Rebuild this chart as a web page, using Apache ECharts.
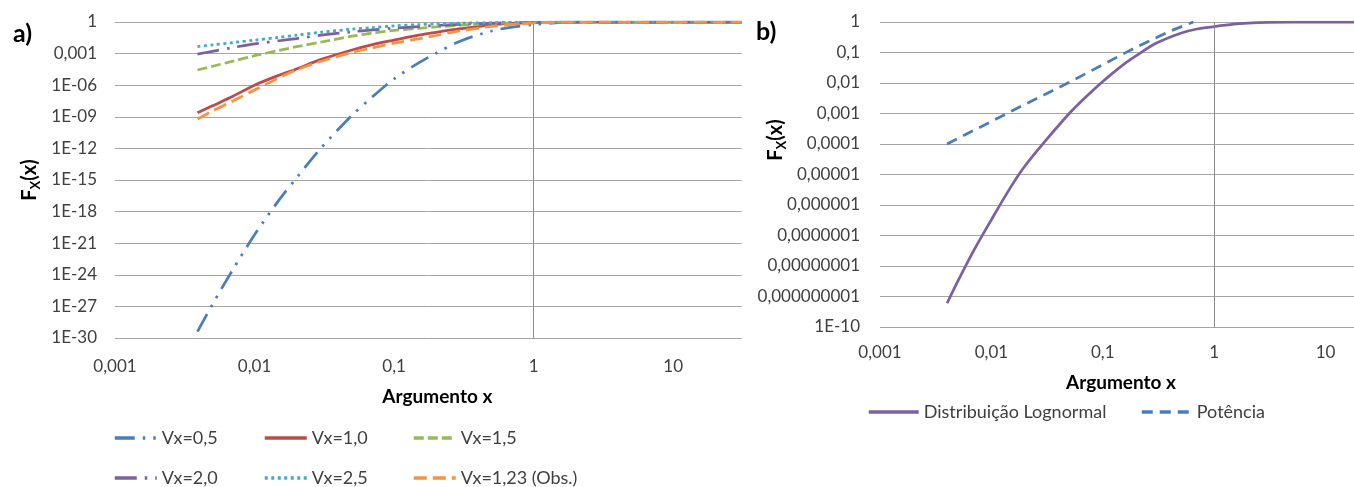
<!DOCTYPE html>
<html>
<head>
<meta charset="utf-8">
<script src="https://cdn.jsdelivr.net/npm/echarts@6/dist/echarts.min.js"></script>
<style>html,body{margin:0;padding:0;background:#fff}#c{width:1354px;height:487px}</style>
</head>
<body>
<div id="c"></div>
<script>
// ---- Chart a) data ----
const xA = [0.0039, 0.005, 0.007, 0.01, 0.015, 0.02, 0.03, 0.05, 0.07, 0.1, 0.15, 0.2, 0.3, 0.5, 0.7, 1, 1.5, 2, 3, 5, 10, 20, 31];
const vx05  = [4.0e-30, 1.6e-27, 3.2e-24, 6.3e-21, 1.3e-17, 1.6e-15, 1.1e-12, 1.4e-9, 7.9e-8, 4.0e-6, 1.3e-4, 1.1e-3, 0.016, 0.14, 0.33, 0.56, 0.87, 0.98, 1, 1, 1, 1, 1];
const vx10  = [2.4e-9, 1.1e-8, 8.9e-8, 1.0e-6, 8.9e-6, 3.5e-5, 2.8e-4, 2.2e-3, 7.1e-3, 0.019, 0.056, 0.105, 0.23, 0.54, 0.74, 0.89, 0.98, 1, 1, 1, 1, 1, 1];
const vx15  = [2.75e-5, 6.3e-5, 1.9e-4, 6.3e-4, 2.0e-3, 4.5e-3, 0.0126, 0.045, 0.089, 0.16, 0.25, 0.34, 0.5, 0.72, 0.85, 0.93, 0.99, 1, 1, 1, 1, 1, 1];
const vx20  = [8.9e-4, 1.66e-3, 3.8e-3, 8.3e-3, 0.0166, 0.027, 0.056, 0.117, 0.18, 0.26, 0.37, 0.46, 0.6, 0.76, 0.85, 0.93, 0.98, 0.99, 1, 1, 1, 1, 1];
const vx25  = [4.7e-3, 6.8e-3, 0.0112, 0.019, 0.035, 0.056, 0.107, 0.21, 0.30, 0.43, 0.56, 0.65, 0.78, 0.87, 0.93, 0.98, 0.99, 1, 1, 1, 1, 1, 1];
const vx123 = [6.3e-10, 3.5e-9, 3.2e-8, 3.5e-7, 5.0e-6, 2.8e-5, 1.9e-4, 1.3e-3, 3.5e-3, 0.01, 0.025, 0.052, 0.15, 0.38, 0.58, 0.79, 0.95, 0.99, 1, 1, 1, 1, 1];
const namesA = ['Vx=0,5', 'Vx=1,0', 'Vx=1,5', 'Vx=2,0', 'Vx=2,5', 'Vx=1,23 (Obs.)'];
const xTicksA = ['0,001', '0,01', '0,1', '1', '10'];
const yTicksA = ['1E-30', '1E-27', '1E-24', '1E-21', '1E-18', '1E-15', '1E-12', '1E-09', '1E-06', '0,001', '1'];

// ---- Chart b) data ----
const xB = [0.004, 0.005, 0.007, 0.01, 0.015, 0.02, 0.03, 0.05, 0.07, 0.1, 0.15, 0.2, 0.3, 0.5, 0.7, 1, 1.5, 2, 3, 5, 10, 18];
const lognormal = [6.0e-10, 3.2e-9, 3.4e-8, 3.3e-7, 4.0e-6, 1.9e-5, 1.17e-4, 1.0e-3, 3.4e-3, 0.0112, 0.038, 0.079, 0.2, 0.43, 0.59, 0.71, 0.85, 0.92, 0.98, 1, 1, 1];
const xPot = [0.004, 0.01, 0.02, 0.05, 0.1, 0.2, 0.4, 0.65];
const potencia = [1.0e-4, 5.5e-4, 2.0e-3, 0.0105, 0.04, 0.15, 0.5, 1.0];
const namesB = ['Distribuição Lognormal', 'Potência'];
const xTicksB = ['0,001', '0,01', '0,1', '1', '10'];
const yTicksB = ['1E-10', '0,000000001', '0,00000001', '0,0000001', '0,000001', '0,00001', '0,0001', '0,001', '0,01', '0,1', '1'];

// axis ranges
const xMaxA = 31, xMaxB = 18;

const L = Math.log10;
const toPts = (xs, ys) => xs.map((x, i) => [L(x), L(ys[i])]);
const FONT = 'Lato';
const gridColor = '#a6a6a6';

const chart = echarts.init(document.getElementById('c'), null, {renderer: 'canvas'});

const colorsA = ['#4A7EBB', '#BE4B48', '#98B954', '#7D60A0', '#46AAC5', '#F69240'];
const dashA = [[20, 8, 2.5, 8, 2.5, 8], 'solid', [10, 4], [22, 8, 2.5, 8], [3, 3.5], [13, 6]];
const dataA = [vx05, vx10, vx15, vx20, vx25, vx123];

const series = dataA.map((ys, i) => ({
  name: namesA[i], type: 'line', xAxisIndex: 0, yAxisIndex: 0,
  data: toPts(xA, ys), showSymbol: false, symbol: 'none',
  smooth: 0.3,
  lineStyle: {color: colorsA[i], width: 2.75, type: dashA[i]},
  itemStyle: {color: colorsA[i]},
  z: 3
}));
series[0].markLine = {
  silent: true, symbol: 'none', label: {show: false},
  lineStyle: {color: '#8c8c8c', width: 1, type: 'solid'},
  data: [{xAxis: 0}], z: 1
};
series.push({
  name: namesB[0], type: 'line', xAxisIndex: 1, yAxisIndex: 1,
  data: toPts(xB, lognormal), showSymbol: false, symbol: 'none',
  smooth: 0.3,
  lineStyle: {color: '#7D60A0', width: 2.75}, itemStyle: {color: '#7D60A0'},
  markLine: {silent: true, symbol: 'none', label: {show: false},
    lineStyle: {color: '#8c8c8c', width: 1, type: 'solid'}, data: [{xAxis: 0}]}
});
series.push({
  name: namesB[1], type: 'line', xAxisIndex: 1, yAxisIndex: 1,
  data: toPts(xPot, potencia), showSymbol: false, symbol: 'none',
  lineStyle: {color: '#4A7EBB', width: 2.75, type: [11, 7]}, itemStyle: {color: '#4A7EBB'}
});

const lab = {fontFamily: FONT, fontSize: 17, color: '#404040'};
const xLabelFmt = (ticks) => (v) => {
  const r = Math.round(v);
  if (Math.abs(v - r) > 1e-6) return '';
  const idx = r + 3;
  return ticks[idx] !== undefined ? ticks[idx] : '';
};

const hiddenSymbol = {color: 'rgba(0,0,0,0)', borderColor: 'rgba(0,0,0,0)', borderWidth: 0, opacity: 0};
const legText = {fontFamily: FONT, fontSize: 18, color: '#404040'};
const legLine = {width: 3.5};
const legPos = [[113, 429], [263, 429], [412, 429], [113, 469], [263, 469], [412, 469]];
const legends = namesA.map((n, i) => ({
  data: [n], left: legPos[i][0], top: legPos[i][1], padding: 0, itemGap: 0,
  itemWidth: 42, itemHeight: 14, selectedMode: false,
  itemStyle: hiddenSymbol, lineStyle: legLine, textStyle: legText
}));
legends.push({data: [namesB[0]], left: 867, top: 403, padding: 0, itemWidth: 50, itemHeight: 14, selectedMode: false,
  itemStyle: hiddenSymbol, lineStyle: legLine, textStyle: legText});
legends.push({data: [namesB[1]], left: 1140, top: 403, padding: 0, itemWidth: 50, itemHeight: 14, selectedMode: false,
  itemStyle: hiddenSymbol, lineStyle: legLine, textStyle: legText});

const yName = (x, y) => ({
  type: 'text', x: x, y: y, rotation: Math.PI / 2,
  style: {
    text: '{b|F}{s|X}{b|(x)}',
    align: 'center', verticalAlign: 'middle',
    rich: {
      b: {fontFamily: FONT, fontSize: 20, fontWeight: 'bold', fill: '#000', lineHeight: 24},
      s: {fontFamily: FONT, fontSize: 13, fontWeight: 'bold', fill: '#000', verticalAlign: 'bottom', lineHeight: 24}
    }
  }
});

chart.setOption({
  animation: false,
  backgroundColor: '#fff',
  grid: [
    {left: 115, top: 22, width: 626.7, height: 316},
    {left: 880, top: 22, width: 474, height: 305}
  ],
  xAxis: [
    {type: 'value', gridIndex: 0, min: -3, max: L(xMaxA), interval: 1,
     axisLine: {show: false}, axisTick: {show: false}, splitLine: {show: false},
     axisLabel: Object.assign({margin: 20, formatter: xLabelFmt(xTicksA), showMaxLabel: false}, lab),
     name: 'Argumento x', nameLocation: 'middle', nameGap: 49,
     nameTextStyle: {fontFamily: FONT, fontSize: 19, fontWeight: 'bold', color: '#000', padding: [0, 0, 0, 18]}},
    {type: 'value', gridIndex: 1, min: -3, max: L(xMaxB), interval: 1,
     axisLine: {show: false}, axisTick: {show: false}, splitLine: {show: false},
     axisLabel: Object.assign({margin: 17, formatter: xLabelFmt(xTicksB), showMaxLabel: false}, lab),
     name: 'Argumento x', nameLocation: 'middle', nameGap: 46,
     nameTextStyle: {fontFamily: FONT, fontSize: 19, fontWeight: 'bold', color: '#000', padding: [0, 0, 0, 8]}}
  ],
  yAxis: [
    {type: 'value', gridIndex: 0, min: -30, max: 0, interval: 3,
     axisLine: {show: false}, axisTick: {show: false},
     splitLine: {show: true, lineStyle: {color: gridColor, width: 1}},
     axisLabel: Object.assign({margin: 18, formatter: (v) => yTicksA[Math.round((v + 30) / 3)] || ''}, lab)},
    {type: 'value', gridIndex: 1, min: -10, max: 0, interval: 1,
     axisLine: {show: false}, axisTick: {show: false},
     splitLine: {show: true, lineStyle: {color: gridColor, width: 1}},
     axisLabel: Object.assign({margin: 20, formatter: (v) => yTicksB[Math.round(v + 10)] || ''}, lab)}
  ],
  legend: legends,
  graphic: [
    {type: 'text', x: 13, y: 34, style: {text: 'a)', fontFamily: FONT, fontSize: 25, fontWeight: 'bold', fill: '#000', verticalAlign: 'middle'}},
    {type: 'text', x: 756, y: 32, style: {text: 'b)', fontFamily: FONT, fontSize: 25, fontWeight: 'bold', fill: '#000', verticalAlign: 'middle'}},
    yName(30, 180),
    yName(776, 140)
  ],
  series: series
});
</script>
</body>
</html>
